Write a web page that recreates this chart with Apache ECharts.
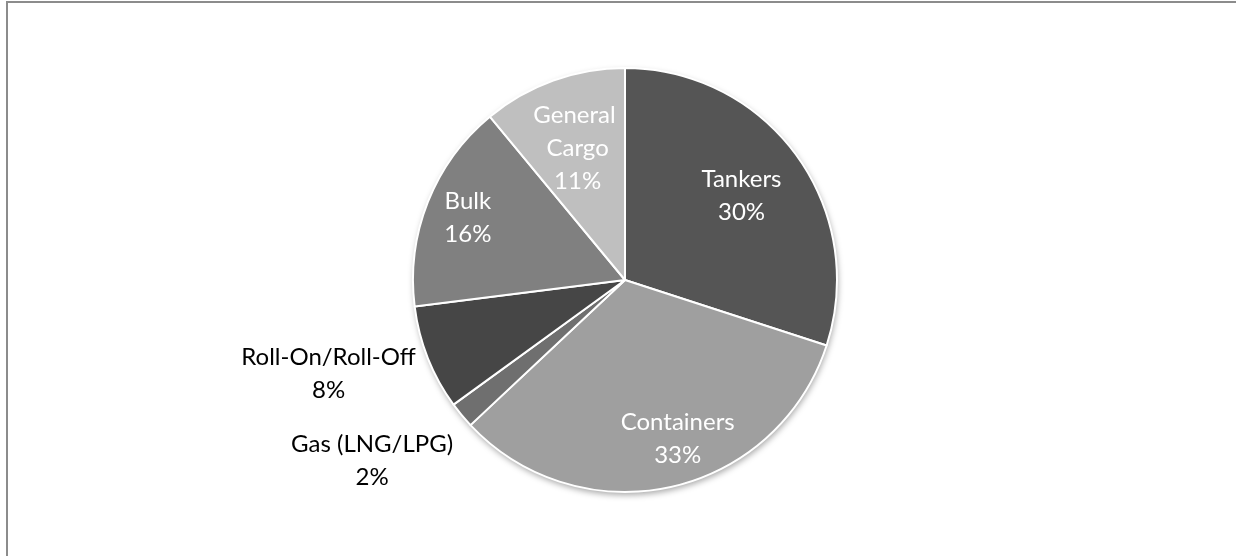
<!DOCTYPE html>
<html>
<head>
<meta charset="utf-8">
<script src="https://cdn.jsdelivr.net/npm/echarts@6/dist/echarts.min.js"></script>
<style>
html,body{margin:0;padding:0;background:#fff;overflow:hidden;}
#frame{position:absolute;left:6px;top:1px;width:1400px;height:800px;border-left:2px solid #8c8c8c;border-top:2px solid #8c8c8c;}
#chart{position:absolute;left:0;top:0;width:1236px;height:556px;}
</style>
</head>
<body>
<div id="frame"></div>
<div id="chart"></div>
<script>
// ---- data ----
const categories = ['Tankers', 'Containers', 'Gas (LNG/LPG)', 'Roll-On/Roll-Off', 'Bulk', 'General Cargo'];
const values = [30, 33, 2, 8, 16, 11];
const colors = ['#555555', '#9f9f9f', '#6f6f6f', '#464646', '#808080', '#bfbfbf'];

// ---- label placement (style): ring mid radius, angular shift (deg), text colour ----
const labelRing = [141, 164, 308, 308, 166, 137];
const labelShift = [0, 5.8, -4, -4, 0, 0];
const labelColor = ['#ffffff', '#ffffff', '#000000', '#000000', '#ffffff', '#ffffff'];
const FONT = 'Lato, "Open Sans", sans-serif';
const CX = 625, CY = 280, R = 212;

function labelSeries(k) {
  const mid = labelRing[k];
  return {
    type: 'pie',
    silent: true,
    center: [CX, CY],
    radius: [mid - 20, mid + 20],
    startAngle: 90 + labelShift[k],
    clockwise: true,
    avoidLabelOverlap: false,
    percentPrecision: 0,
    z: 5,
    label: {
      show: true,
      position: 'inside',
      formatter: '{b}\n{d}%',
      color: labelColor[k],
      fontFamily: FONT,
      fontSize: 24,
      lineHeight: 33,
      align: 'center'
    },
    labelLine: { show: false },
    emphasis: { disabled: true },
    data: categories.map((name, i) => {
      const item = {
        name: name,
        value: values[i],
        itemStyle: { color: 'rgba(0,0,0,0)', borderWidth: 0 },
        label: { show: i === k }
      };
      if (name === 'General Cargo') { item.label.width = 90; item.label.overflow = 'break'; }
      return item;
    })
  };
}

const total = values.reduce((a, b) => a + b, 0);

const chart = echarts.init(document.getElementById('chart'), null, { renderer: 'canvas' });
chart.setOption({
  backgroundColor: 'transparent',
  animation: false,
  series: [
    {
      // soft drop shadow behind the whole pie
      type: 'pie',
      silent: true,
      z: 1,
      center: [CX, CY],
      radius: [0, R],
      label: { show: false },
      labelLine: { show: false },
      emphasis: { disabled: true },
      itemStyle: {
        color: '#ffffff',
        shadowBlur: 6,
        shadowOffsetX: 1,
        shadowOffsetY: 3,
        shadowColor: 'rgba(0,0,0,0.35)'
      },
      data: [{ name: 'all', value: total }]
    },
    {
      type: 'pie',
      silent: true,
      z: 2,
      center: [CX, CY],
      radius: [0, R],
      startAngle: 90,
      clockwise: true,
      label: { show: false },
      labelLine: { show: false },
      emphasis: { disabled: true },
      itemStyle: { borderColor: '#ffffff', borderWidth: 2 },
      data: categories.map((name, i) => ({ name: name, value: values[i], itemStyle: { color: colors[i] } }))
    }
  ].concat(categories.map((_, k) => labelSeries(k)))
});
</script>
</body>
</html>
